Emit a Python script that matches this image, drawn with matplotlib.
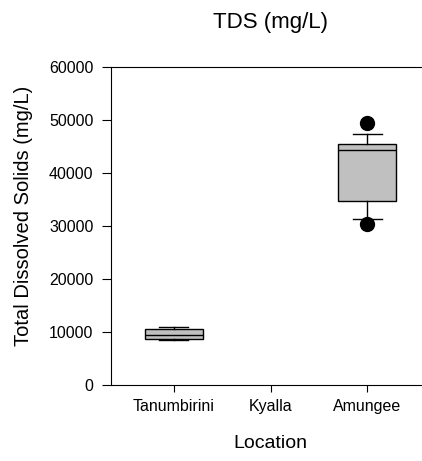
import matplotlib
matplotlib.use("Agg")
import matplotlib.pyplot as plt

plt.rcParams['font.family'] = ['Liberation Sans', 'DejaVu Sans']

# Box statistics (mg/L)
locations = ["Tanumbirini", "Kyalla", "Amungee"]
whisker_low = [8490, None, 31300]
q1 = [8620, None, 34700]
median = [9430, None, 44340]
q3 = [10510, None, 45400]
whisker_high = [11000, None, 47400]
outliers = [[], [], [30380, 49380]]


def build_stats():
    stats = []
    positions = []
    for i in range(len(locations)):
        if median[i] is None:
            continue
        stats.append({
            "whislo": whisker_low[i], "q1": q1[i], "med": median[i],
            "q3": q3[i], "whishi": whisker_high[i], "fliers": outliers[i],
        })
        positions.append(i + 1)
    return stats, positions


fig = plt.figure(figsize=(4.22, 4.61), dpi=100)
ax = fig.add_axes([0.263, 0.165, 0.756, 0.69])

stats, positions = build_stats()
ax.bxp(stats, positions=positions, widths=0.6, patch_artist=True,
       boxprops=dict(facecolor="#c0c0c0", edgecolor="black", linewidth=1),
       medianprops=dict(color="black", linewidth=1),
       whiskerprops=dict(color="black", linewidth=1),
       capprops=dict(color="black", linewidth=1),
       capwidths=0.3,
       flierprops=dict(marker="o", markerfacecolor="black",
                       markeredgecolor="black", markersize=10))

ax.set_xlim(0.35, 3.65)
ax.set_ylim(0, 60000)
ax.set_yticks(range(0, 60001, 10000))
ax.set_xticks([1, 2, 3])
ax.set_xticklabels(locations)

ax.spines["right"].set_visible(False)
ax.tick_params(axis="y", length=6.5, labelsize=11.5, pad=6)
ax.tick_params(axis="x", length=5, labelsize=11.5, pad=5)

ax.set_xlabel("Location", fontsize=14)
ax.xaxis.set_label_coords(0.5, -0.158)
ax.set_ylabel("Total Dissolved Solids (mg/L)", fontsize=14.5)
ax.yaxis.set_label_coords(-0.245, 0.53)
fig.text(0.642, 0.952, "TDS (mg/L)", fontsize=16, ha="center", va="center")

fig.savefig("out.png", dpi=100)
